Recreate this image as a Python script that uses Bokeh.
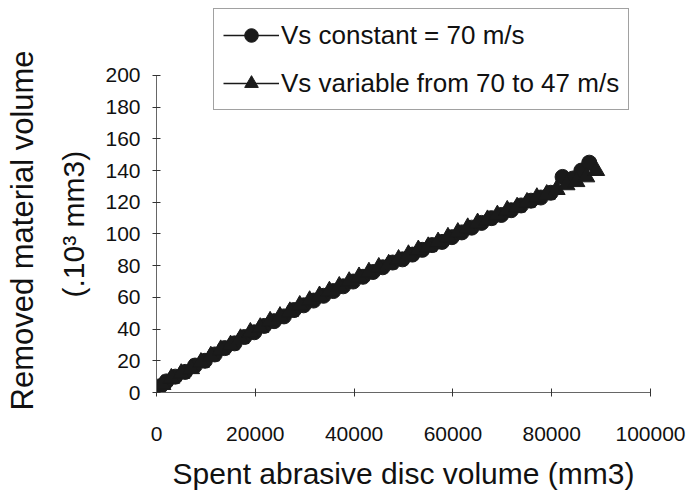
from bokeh.plotting import figure
from bokeh.models import Range1d, Title, Legend, LegendItem, FixedTicker
from bokeh.embed import file_html
from bokeh.resources import INLINE

# ---- data ----
x_ticks = [0, 20000, 40000, 60000, 80000, 100000]
x_tick_labels = ["0", "20000", "40000", "60000", "80000", "100000"]
y_ticks = [0, 20, 40, 60, 80, 100, 120, 140, 160, 180, 200]
y_tick_labels = ["0", "20", "40", "60", "80", "100", "120", "140", "160", "180", "200"]

# Vs constant = 70 m/s  (circles)
const_x = [0, 800, 2000, 3800, 5800, 7800, 9800, 11800, 13800, 15800, 17800, 19800,
           21800, 23800, 25800, 27800, 29800, 31800, 33800, 35800, 37800, 39800,
           41800, 43800, 45800, 47800, 49800, 51800, 53800, 55800, 57800, 59800,
           61800, 63800, 65800, 67800, 69800, 71800, 73800, 75800, 77800, 79800,
           82200, 84300, 86000, 87600]
const_y = [1, 4, 7, 10, 13, 17, 20, 24, 28, 31, 35, 38,
           42, 45, 48, 52, 55, 58, 61, 64, 67, 70,
           73, 76, 79, 82, 84, 87, 90, 93, 95, 98,
           101, 104, 107, 110, 112, 115, 118, 121, 123, 126,
           136, 135, 140, 145]

# Vs variable from 70 to 47 m/s  (triangles)
var_x = [0, 1200, 3000, 5000, 7000, 9000, 11000, 13000, 15000, 17000, 19000,
         21000, 23000, 25000, 27000, 29000, 31000, 33000, 35000, 37000, 39000,
         41000, 43000, 45000, 47000, 49000, 51000, 53000, 55000, 57000, 59000,
         61000, 63000, 65000, 67000, 69000, 71000, 73000, 75000, 77000, 79000,
         81000, 83000, 85000, 87000, 89000]
var_y = [0, 5, 9, 12, 15, 19, 23, 27, 30, 34, 38,
         41, 45, 48, 51, 55, 58, 61, 64, 67, 70,
         73, 76, 79, 81, 84, 87, 90, 92, 95, 98,
         101, 104, 107, 109, 112, 115, 117, 120, 123, 125,
         128, 131, 133, 136, 140]

series_labels = ["Vs constant = 70 m/s", "Vs variable from 70 to 47 m/s"]
x_title = "Spent abrasive disc volume (mm3)"
y_title_1 = "Removed material volume"
y_title_2 = "(.10\u00b3 mm3)"

FONT = "Liberation Sans"
INK = "#1a1a1a"

# frame spans the whole top of the page so that the legend (which sits above
# the 200 tick) is not clipped; the axis line itself is bounded to 0..200
p = figure(width=688, height=499, output_backend="svg", toolbar_location=None,
           x_range=Range1d(0, 100000), y_range=Range1d(0, 247.3),
           min_border_left=156, min_border_right=38, min_border_top=0,
           min_border_bottom=107)
p.background_fill_color = "white"
p.border_fill_color = "white"
p.outline_line_color = None
p.xgrid.visible = False
p.ygrid.visible = False

for ax, ticks, labels in ((p.xaxis[0], x_ticks, x_tick_labels), (p.yaxis[0], y_ticks, y_tick_labels)):
    ax.ticker = FixedTicker(ticks=ticks)
    ax.major_label_overrides = {t: l for t, l in zip(ticks, labels)}
    ax.bounds = (ticks[0], ticks[-1])
    ax.minor_tick_line_color = None
    ax.major_tick_in = 4
    ax.major_tick_out = 4
    ax.axis_line_color = "#666666"
    ax.major_tick_line_color = "#333333"
    ax.major_label_text_font = FONT
    ax.major_label_text_font_size = "21px"
    ax.major_label_text_color = "#111111"
    ax.axis_label_text_font = FONT
    ax.axis_label_text_font_style = "normal"
    ax.axis_label_text_font_size = "30px"
    ax.axis_label_text_color = "#111111"

p.xaxis.major_label_standoff = 30
p.xaxis.axis_label = x_title
p.xaxis.axis_label_standoff = 13
p.yaxis.major_label_standoff = 12

# two-line y title, placed as two vertical titles on the left
p.add_layout(Title(text=y_title_2, align="left", offset=95, text_font=FONT,
                   text_font_size="30px", text_font_style="normal",
                   text_color="#111111", standoff=26), "left")
p.add_layout(Title(text=y_title_1, align="left", offset=-18, text_font=FONT,
                   text_font_size="31px", text_font_style="normal",
                   text_color="#111111", standoff=4), "left")

l1 = p.line(const_x, const_y, line_color=INK, line_width=1.5)
s1 = p.scatter(const_x, const_y, marker="circle", size=15, fill_color=INK, line_color=INK)
l2 = p.line(var_x, var_y, line_color=INK, line_width=1.5)
s2 = p.scatter(var_x, var_y, marker="triangle", size=17, fill_color=INK, line_color=INK)

legend = Legend(items=[LegendItem(label=series_labels[0], renderers=[l1, s1]),
                       LegendItem(label=series_labels[1], renderers=[l2, s2])],
                location=(57, 282), orientation="vertical",
                label_text_font=FONT, label_text_font_size="26px", label_text_color="#111111",
                glyph_width=56, glyph_height=34, label_height=34, label_standoff=2,
                spacing=14, padding=9, margin=0,
                border_line_color="#444444", border_line_width=1,
                background_fill_color="white", background_fill_alpha=1)
p.add_layout(legend, "center")

open("out.html", "w").write(file_html(p, INLINE))
